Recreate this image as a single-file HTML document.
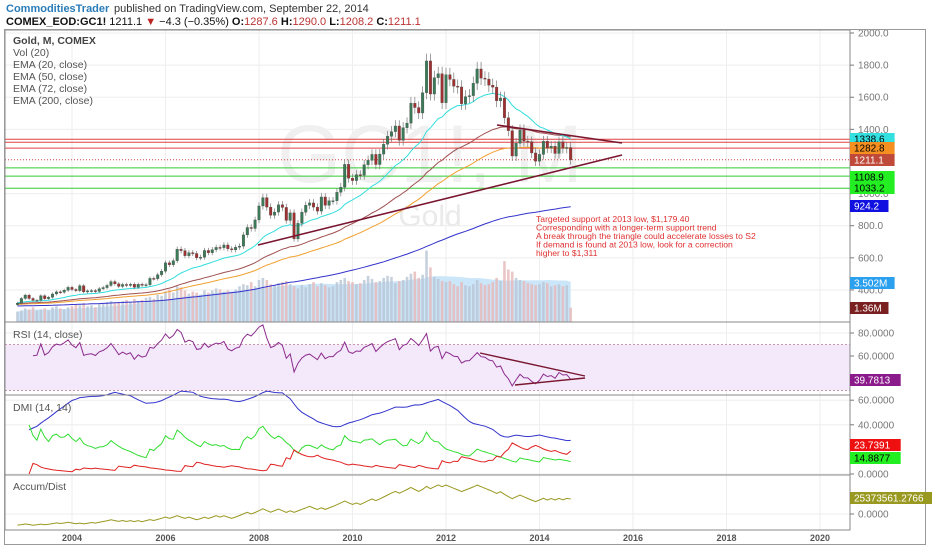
<!DOCTYPE html>
<html><head><meta charset="utf-8"><style>
body{margin:0;background:#fff;width:932px;height:550px;overflow:hidden;font-family:"Liberation Sans",sans-serif}
svg text{font-family:"Liberation Sans",sans-serif}
</style></head><body>
<svg id="c" width="932" height="550" xmlns="http://www.w3.org/2000/svg">
<rect x="0" y="0" width="932" height="550" fill="#fff"/>
<text x="6" y="12" font-size="11" font-weight="bold" fill="#2a7cb8">CommoditiesTrader</text>
<text x="114" y="12" font-size="11" fill="#333">published on TradingView.com, September 22, 2014</text>
<text x="6" y="25" font-size="11" fill="#111"><tspan font-weight="bold">COMEX_EOD:GC1!</tspan> 1211.1 <tspan fill="#b22">▼</tspan> −4.3 (−0.35%) <tspan font-weight="bold">O:</tspan><tspan fill="#b33">1287.6</tspan> <tspan font-weight="bold">H:</tspan><tspan fill="#b33">1290.0</tspan> <tspan font-weight="bold">L:</tspan><tspan fill="#b33">1208.2</tspan> <tspan font-weight="bold">C:</tspan><tspan fill="#b33">1211.1</tspan></text>
<g id="g"></g>
</svg>
<script>
const closes=[318,347,
368,347,335,336,364,346,354,375,388,386,398,416,
403,396,426,388,394,396,391,408,415,428,452,438,
422,434,428,435,417,435,429,433,472,470,495,517,
569,557,582,654,645,613,632,627,600,604,646,632,
651,665,663,680,656,650,666,673,743,789,783,836,
923,975,916,865,885,930,914,833,880,718,815,884,
927,942,916,891,979,927,955,955,1008,1040,1182,1096,
1081,1118,1115,1180,1207,1244,1181,1246,1307,1357,1386,1421,
1332,1410,1439,1563,1536,1502,1628,1826,1620,1722,1746,1566,
1740,1711,1669,1664,1560,1604,1610,1687,1776,1719,1713,1675,
1663,1578,1595,1472,1392,1234,1313,1396,1327,1323,1253,1202,
1244,1326,1284,1295,1250,1322,1282,1287,1211];
const volumes=[1.0,1.1,
1.3,1.2,1.4,1.1,1.2,1.3,1.1,1.4,1.5,1.3,1.2,1.4,
1.5,1.7,1.6,1.8,1.5,1.6,1.4,1.7,1.8,1.9,2.0,1.8,
1.9,2.0,2.1,1.9,2.2,2.0,2.1,2.3,2.4,2.2,2.6,2.5,
2.9,3.1,2.8,3.4,3.3,3.0,2.7,2.9,2.8,2.6,3.0,2.8,
3.0,3.2,3.1,2.9,3.0,2.8,3.1,3.4,3.6,3.5,3.8,3.4,
4.0,4.2,4.0,3.6,3.5,3.7,3.8,3.9,3.6,3.4,3.2,3.5,
3.3,3.6,3.8,3.4,3.7,3.5,3.3,3.4,3.8,4.0,4.2,3.9,
3.8,3.6,3.7,4.0,4.4,4.1,3.8,3.9,4.2,4.4,4.3,3.7,
3.9,4.0,4.3,4.6,4.8,4.2,4.5,6.8,5.2,4.3,4.1,3.9,
3.8,3.9,3.6,3.4,3.8,3.5,3.4,3.6,4.0,3.7,3.5,3.6,
3.8,4.2,3.9,5.8,5.0,4.8,4.2,4.0,3.9,3.7,3.6,3.5,
3.6,3.8,3.7,3.4,3.5,3.6,3.4,3.5,1.36];
const yearTicks=[2004,2006,2008,2010,2012,2014,2016,2018,2020];
const priceTicks=[2000,1800,1600,1400,1000,800,600,400];
const hLinesRed=[1338.6,1320,1282.8];
const hLinesGreen=[1160.2,1108.9,1033.2];
const rsiTicks=[80,60];const dmiTicks=[60,40,0];
const startYear=2002+10/12;
const NS='http://www.w3.org/2000/svg';const G=document.getElementById('g');
function el(t,a,p){const e=document.createElementNS(NS,t);for(const k in a)e.setAttribute(k,a[k]);(p||G).appendChild(e);return e;}
const L=5,R=850;
const xYear=y=>72+(y-2004)*46.75;
const xI=i=>xYear(startYear+i/12);
const yP=p=>33+(2000-p)*0.1606;
const yV=v=>322-v*10.5;
const yR=v=>356-(v-60)*1.15;
const yD=v=>474-v*1.23;
const yA=v=>514-v*0.64;
const panes=[[30,322],[322,395],[395,475],[475,530]];
yearTicks.forEach(y=>{const l=el('line',{x1:xYear(y),x2:xYear(y),y1:30,y2:530,stroke:'#eee'});

const t=el('text',{x:xYear(y),y:541,'font-size':9,'text-anchor':'middle',fill:'#555','font-weight':'bold'});t.textContent=y;
});
function ytick(y,label,color){el('line',{x1:L,x2:R,y1:y,y2:y,stroke:'#eee'});el('line',{x1:R,x2:R+4,y1:y,y2:y,stroke:'#777'});
const t=el('text',{x:R+8,y:y+3.5,'font-size':10,fill:color||'#777'});t.textContent=label;
}
priceTicks.forEach(p=>ytick(yP(p),p.toFixed(1)));
rsiTicks.forEach(v=>ytick(yR(v),v.toFixed(4)));
dmiTicks.forEach(v=>ytick(yD(v),v.toFixed(4)));
ytick(yA(0),'0.0000');
let w=el('text',{x:430,y:182,'font-size':82,fill:'#f0f0f0','text-anchor':'middle'});w.textContent='GC1!, M';

w=el('text',{x:430,y:226,'font-size':30,fill:'#eaeaea','text-anchor':'middle'});w.textContent='Gold';

el('rect',{x:L,y:yR(70),width:R-L,height:yR(30)-yR(70),fill:'#f3e9fb'});
el('line',{x1:L,x2:R,y1:yR(70),y2:yR(70),stroke:'#c9a','stroke-dasharray':'2,2'});
el('line',{x1:L,x2:R,y1:yR(30),y2:yR(30),stroke:'#c9a','stroke-dasharray':'2,2'});
const N=closes.length;const opens=closes.map((c,i)=>i?closes[i-1]:c*0.97);
const highs=closes.map((c,i)=>Math.max(c,opens[i])*1.025);const lows=closes.map((c,i)=>Math.min(c,opens[i])*0.975);
const vma=[];volumes.forEach((v,i)=>{const s=volumes.slice(Math.max(0,i-19),i+1);vma.push(s.reduce((a,b)=>a+b,0)/s.length);});
let d='M'+xI(0)+','+yV(0);vma.forEach((v,i)=>d+=' L'+xI(i)+','+yV(v));d+=' L'+xI(N-1)+','+yV(0)+'Z';
el('path',{d,fill:'#bfe0f7',opacity:0.8});
volumes.forEach((v,i)=>{const r=el('rect',{x:xI(i)-1.3,y:yV(v),width:2.6,height:322-yV(v),fill:closes[i]>=opens[i]?'#b8c6d6':'#e6b8b8',opacity:0.8});
});
hLinesRed.forEach(p=>el('line',{x1:L,x2:R,y1:yP(p),y2:yP(p),stroke:'#e04040'}));
hLinesGreen.forEach(p=>el('line',{x1:L,x2:R,y1:yP(p),y2:yP(p),stroke:'#3c3'}));
el('line',{x1:L,x2:R,y1:yP(closes[N-1]),y2:yP(closes[N-1]),stroke:'#c44','stroke-dasharray':'1,2'});
function ema(n,seed){const a=2/(n+1);let e=seed;return closes.map(c=>e=e+a*(c-e));}
function line(vals,fy,color,name,wd,from){let s='';vals.forEach((v,i)=>{if(i<(from||0))return;s+=(s?' L':'M')+xI(i).toFixed(1)+','+fy(v).toFixed(1);});
const p=el('path',{d:s,fill:'none',stroke:color,'stroke-width':wd||1});return p;}
line(ema(200,300),yP,'#3333cc','ema-200');
line(ema(72,310),yP,'#f0a030','ema-72');
line(ema(50,315),yP,'#a05050','ema-50');
line(ema(20,320),yP,'#33dddd','ema-20');
closes.forEach((c,i)=>{const o=opens[i],up=c>=o,x=xI(i);const col=up?'#3b7a57':'#a03030';
const g=el('g',{});
el('line',{x1:x,x2:x,y1:yP(highs[i]),y2:yP(lows[i]),stroke:'#777','stroke-width':0.7},g);
el('rect',{x:x-1.3,y:yP(Math.max(o,c)),width:2.6,height:Math.max(1,Math.abs(yP(o)-yP(c))),fill:col,stroke:'#444','stroke-width':0.3},g);});
el('line',{x1:258,y1:245,x2:622,y2:155,stroke:'#7a1530','stroke-width':1.6});
el('line',{x1:497,y1:125,x2:622,y2:143,stroke:'#7a1530','stroke-width':1.6});
const rsi=[];let ag=0,al=0;closes.forEach((c,i)=>{if(!i){rsi.push(50);return;}const ch=c-closes[i-1];const g=Math.max(ch,0),l=Math.max(-ch,0);
if(i<=14){ag+=g/14;al+=l/14;}else{ag=(ag*13+g)/14;al=(al*13+l)/14;}rsi.push(al?100-100/(1+ag/al):100);});
line(rsi,yR,'#8b2a8b','rsi-line',1,4);
el('line',{x1:480,y1:353,x2:585,y2:376,stroke:'#7a1530','stroke-width':1.4});
el('line',{x1:515,y1:385,x2:585,y2:378,stroke:'#7a1530','stroke-width':1.4});
const pdi=[],mdi=[],adx=[];let sTR=0,sP=0,sM=0,adxv=20;
closes.forEach((c,i)=>{if(!i){pdi.push(20);mdi.push(20);adx.push(20);return;}
const up=highs[i]-highs[i-1],dn=lows[i-1]-lows[i];const pdm=up>dn&&up>0?up:0,mdm=dn>up&&dn>0?dn:0;
const tr=Math.max(highs[i]-lows[i],Math.abs(highs[i]-closes[i-1]),Math.abs(lows[i]-closes[i-1]));
sTR=sTR-sTR/14+tr;sP=sP-sP/14+pdm;sM=sM-sM/14+mdm;const p=100*sP/sTR,m=100*sM/sTR;
const dx=p+m?100*Math.abs(p-m)/(p+m):0;adxv=(adxv*13+dx)/14;pdi.push(p);mdi.push(m);adx.push(adxv);});
line(adx,yD,'#3333cc','adx-line',1,3);line(pdi,yD,'#33dd33','plus-di-line',1,3);line(mdi,yD,'#e02020','minus-di-line',1,3);
const ad=[];let acc=-18;closes.forEach((c,i)=>{acc+=(c>=opens[i]?1:-1)*volumes[i]*0.7;ad.push(acc);});
line(ad,yA,'#999922','accum-dist-line');
panes.forEach(([a,b])=>el('rect',{x:L,y:a,width:R-L,height:b-a,fill:'none',stroke:'#888'}));
el('rect',{x:4.5,y:29.5,width:921,height:515,fill:'none',stroke:'#999'});
[['Gold, M, COMEX',44,'#444',1],['Vol (20)',56],['EMA (20, close)',68],['EMA (50, close)',80],['EMA (72, close)',92],['EMA (200, close)',104],
['RSI (14, close)',338],['DMI (14, 14)',411],['Accum/Dist',490]].forEach(([t,y,c,b])=>{const e=el('text',{x:13,y,'font-size':10.5,fill:c||'#555','font-weight':b?'bold':'normal'});e.textContent=t;
});
['Targeted support at 2013 low, $1,179.40','Corresponding with a longer-term support trend','A break through the triangle could accelerate losses to S2','If demand is found at 2013 low, look for a correction','higher to $1,311'].forEach((t,i)=>{
const e=el('text',{x:536,y:222+i*8.5,'font-size':8.6,fill:'#e03030'});e.textContent=t;});
[[139,'1338.6','#33e0e0','#000'],[148,'1282.8','#f59020','#000'],[160,'1211.1','#c04a3a','#fff'],[177,'1108.9','#22ee22','#000'],[188,'1033.2','#22ee22','#000'],
[206,'924.2','#1010e0','#fff'],[283,'3.502M','#2aa0ee','#fff'],[308,'1.36M','#7a2020','#fff'],
[380,'39.7813','#8b1a8b','#fff'],[445,'23.7391','#ee1010','#fff'],[458,'14.8877','#22ee22','#000'],[498,'25373561.2766','#999922','#fff']].forEach(([y,t,bg,fg])=>{
const w=t.length*6.1+8;const r=el('rect',{x:R,y:y-6,width:w,height:12,fill:bg});
const e=el('text',{x:R+4,y:y+3.5,'font-size':10,fill:fg});e.textContent=t;});
</script>
</body></html>
